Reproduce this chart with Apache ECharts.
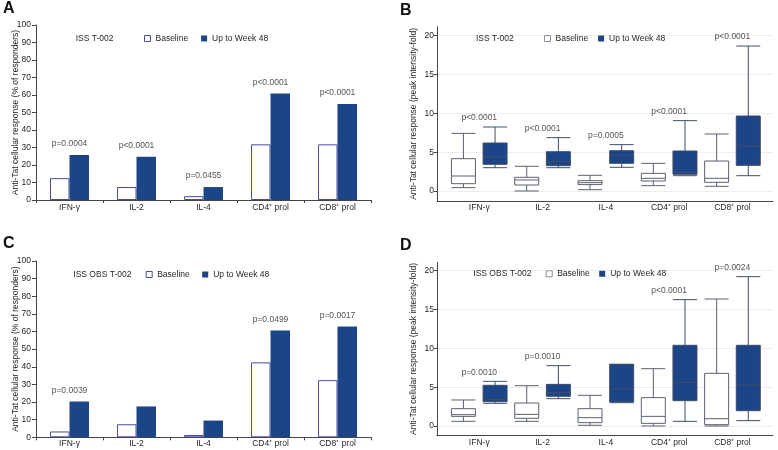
<!DOCTYPE html>
<html><head><meta charset="utf-8">
<script src="https://cdn.jsdelivr.net/npm/echarts@6/dist/echarts.min.js"></script>
<style>html,body{margin:0;padding:0;background:#fff}#c{width:778px;height:450px}</style>
</head><body><div id="c"></div>
<script>
// ---------- data ----------
const categories = ['IFN-γ', 'IL-2', 'IL-4', 'CD4⁺ prol', 'CD8⁺ prol'];
const seriesNames = ['Baseline', 'Up to Week 48'];
const pctTicks = [0, 10, 20, 30, 40, 50, 60, 70, 80, 90, 100];
const foldTicks = [0, 5, 10, 15, 20];

// Panel A (ISS T-002, % responders)
const aBaseline = [12.5, 7.4, 2.2, 31.8, 31.8];
const aWeek48   = [25.7, 24.7, 7.4, 60.8, 54.9];
const aP        = ['p=0.0004', 'p<0.0001', 'p=0.0455', 'p<0.0001', 'p<0.0001'];

// Panel C (ISS OBS T-002, % responders)
const cBaseline = [3.3, 7.4, 1.3, 42.5, 32.4];
const cWeek48   = [20.3, 17.5, 9.5, 60.6, 62.8];
const cP        = ['p=0.0039', '', '', 'p=0.0499', 'p=0.0017'];

// Panel B (ISS T-002, fold) [min, Q1, median, Q3, max]
const bBaseline = [
  [0.43, 0.94, 1.93, 4.16, 7.42],
  [0.00, 0.77, 1.42, 1.76, 3.18],
  [0.17, 0.82, 1.07, 1.33, 2.02],
  [0.69, 1.29, 1.63, 2.27, 3.56],
  [0.60, 1.12, 1.63, 3.86, 7.34]
];
const bWeek48 = [
  [3.00, 3.43, 4.40, 6.18, 8.24],
  [3.00, 3.26, 3.78, 5.06, 6.87],
  [3.05, 3.56, 4.60, 5.19, 5.97],
  [1.97, 2.15, 2.40, 5.15, 9.06],
  [1.97, 3.30, 5.80, 9.66, 18.67]
];
const bP = ['p<0.0001', 'p<0.0001', 'p=0.0005', 'p<0.0001', 'p<0.0001'];

// Panel D (ISS OBS T-002, fold)
const dBaseline = [
  [0.60, 1.24, 1.46, 2.23, 3.35],
  [0.60, 0.99, 1.50, 2.96, 5.19],
  [0.09, 0.43, 1.07, 2.23, 3.95],
  [0.00, 0.34, 1.24, 3.65, 7.38],
  [0.00, 0.17, 0.94, 6.78, 16.35]
];
const dWeek48 = [
  [2.92, 3.13, 3.40, 5.24, 5.75],
  [3.52, 3.82, 4.30, 5.36, 7.77],
  [3.00, 3.09, 4.80, 7.94, 7.94],
  [0.60, 3.26, 5.60, 10.39, 16.27],
  [0.69, 1.97, 5.30, 10.39, 19.23]
];
const dP = ['p=0.0010', 'p=0.0010', '', 'p<0.0001', 'p=0.0024'];

// ---------- styling ----------
const FONT = 'Liberation Sans, Arial, Helvetica, sans-serif';
const FS = 8.5;
const TXT = '#231f20';
const AX = '#444';
const NAVY = '#1c4587';
const BAR_EDGE = '#4a4c9c';
const BOX_EDGE = '#5b6170';
const WEEK_EDGE = '#3f4d68';
const pctName = 'Anti-Tat cellular response (% of responders)';
const foldName = 'Anti-Tat cellular response (peak intensity-fold)';
const foldMin = -1.29, foldMax = 21.16;
const foldMinD = -1.25, foldMaxD = 21.08;

const grids = [], xAxes = [], yAxes = [], series = [], legends = [], titles = [];

function txt(o) { return Object.assign({ fontFamily: FONT, fontSize: FS, color: TXT }, o || {}); }

function addTitle(text, left, top, big) {
  titles.push({ text: text, left: left, top: top, padding: 0, itemGap: 0,
    textStyle: big ? { fontFamily: FONT, fontSize: 16, fontWeight: 'bold', color: '#111' }
                   : { fontFamily: FONT, fontSize: FS, fontWeight: 'normal', color: TXT } });
}
function addLegend(left, top, gap, edge) {
  legends.push({ left: left, top: top, padding: 0, itemWidth: 6, itemHeight: 6, itemGap: gap,
    selectedMode: false, textStyle: txt(),
    data: [
      { name: seriesNames[0], icon: 'rect', itemStyle: { color: '#fff', borderColor: edge, borderWidth: 1 } },
      { name: seriesNames[1], icon: 'rect', itemStyle: { color: NAVY, borderWidth: 0 } }
    ] });
}

function barPanel(g, base, week, pv, labelMargin) {
  const gi = grids.length;
  grids.push(g);
  const xi = xAxes.length, yi = yAxes.length;
  xAxes.push({ type: 'category', gridIndex: gi, data: categories,
    axisLine: { onZero: false, lineStyle: { color: AX, width: 1 } },
    axisTick: { show: true, length: 3, lineStyle: { color: AX } },
    axisLabel: txt({ margin: labelMargin }), splitLine: { show: false } });
  yAxes.push({ type: 'value', gridIndex: gi, min: pctTicks[0], max: pctTicks[pctTicks.length - 1],
    interval: pctTicks[1] - pctTicks[0],
    name: pctName, nameLocation: 'middle', nameGap: 16, nameMoveOverlap: false, nameTextStyle: txt(),
    axisLine: { show: true, lineStyle: { color: AX, width: 1 } },
    axisTick: { show: true, length: 4, lineStyle: { color: AX } },
    axisLabel: txt({ margin: 5 }), splitLine: { show: false } });
  series.push({ type: 'bar', name: seriesNames[0], xAxisIndex: xi, yAxisIndex: yi, data: base,
    barWidth: 19.5, barGap: '0%', itemStyle: { color: '#fff', borderColor: BAR_EDGE, borderWidth: 1 },
    emphasis: { disabled: true }, silent: true });
  series.push({ type: 'bar', name: seriesNames[1], xAxisIndex: xi, yAxisIndex: yi, data: week,
    barWidth: 19.5, barGap: '0%', itemStyle: { color: NAVY },
    emphasis: { disabled: true }, silent: true });
  series.push({ type: 'scatter', xAxisIndex: xi, yAxisIndex: yi, data: week,
    symbolSize: 1, itemStyle: { color: 'rgba(0,0,0,0)' }, silent: true, z: 5,
    label: { show: true, position: 'top', distance: 6, fontFamily: FONT, fontSize: FS, color: TXT,
      formatter: function (p) { return pv[p.dataIndex]; } } });
}

function boxPanel(lineRect, tickRect, dataRect, base, week, pv, yMin, yMax) {
  // grid with axis lines
  const g0 = grids.length; grids.push(lineRect);
  xAxes.push({ type: 'value', gridIndex: g0, min: 0, max: 1, axisLine: { onZero: false, lineStyle: { color: AX } },
    axisTick: { show: false }, axisLabel: { show: false }, splitLine: { show: false } });
  yAxes.push({ type: 'value', gridIndex: g0, min: yMin, max: yMax,
    name: foldName, nameLocation: 'middle', nameGap: 19, nameMoveOverlap: false, nameTextStyle: txt(),
    axisLine: { show: true, onZero: false, lineStyle: { color: AX } },
    axisTick: { show: false }, axisLabel: { show: false }, splitLine: { show: false } });
  // grid with ticks / labels / grid lines
  const g1 = grids.length; grids.push(tickRect);
  xAxes.push({ type: 'value', gridIndex: g1, min: 0, max: 1, show: false });
  yAxes.push({ type: 'value', gridIndex: g1, min: foldTicks[0], max: foldTicks[foldTicks.length - 1],
    interval: foldTicks[1] - foldTicks[0],
    axisLine: { show: false }, axisTick: { show: true, length: 3, lineStyle: { color: AX } },
    axisLabel: txt({ margin: 3 }), splitLine: { show: true, lineStyle: { color: '#eeeeee', width: 1 } } });
  // data grid
  const g2 = grids.length; grids.push(dataRect);
  const slots = [];
  categories.forEach(function (c) { slots.push(c + ' b', c + ' w'); });
  const xb = xAxes.length;
  xAxes.push({ type: 'category', gridIndex: g2, data: slots, show: false });
  const xw = xAxes.length;
  xAxes.push({ type: 'category', gridIndex: g2, data: slots, show: false });
  const xl = xAxes.length;
  xAxes.push({ type: 'category', gridIndex: g2, data: categories, position: 'bottom',
    axisLine: { show: false, onZero: false }, axisTick: { show: false }, axisLabel: txt({ margin: 2 }),
    splitLine: { show: false } });
  const yd = yAxes.length;
  yAxes.push({ type: 'value', gridIndex: g2, min: yMin, max: yMax, show: false });
  const EMPTY = ['-', '-', '-', '-', '-'];
  const bData = [], wData = [];
  for (let i = 0; i < categories.length; i++) {
    bData.push(base[i], EMPTY);
    wData.push(EMPTY, week[i]);
  }
  series.push({ type: 'boxplot', name: seriesNames[0], xAxisIndex: xb, yAxisIndex: yd, data: bData,
    boxWidth: [24, 24], itemStyle: { color: '#fff', borderColor: BOX_EDGE, borderWidth: 1 },
    emphasis: { disabled: true }, silent: true });
  series.push({ type: 'boxplot', name: seriesNames[1], xAxisIndex: xw, yAxisIndex: yd, data: wData,
    boxWidth: [24, 24], itemStyle: { color: NAVY, borderColor: WEEK_EDGE, borderWidth: 1 },
    emphasis: { disabled: true }, silent: true });
  series.push({ type: 'scatter', xAxisIndex: xl, yAxisIndex: yd, data: week.map(function (w) { return w[4]; }),
    symbolSize: 1, itemStyle: { color: 'rgba(0,0,0,0)' }, silent: true, z: 5,
    label: { show: true, position: 'top', distance: 4, fontFamily: FONT, fontSize: FS, color: TXT,
      formatter: function (p) { return pv[p.dataIndex]; } } });
}

// Panel A
barPanel({ left: 36, top: 25, width: 335, height: 175 }, aBaseline, aWeek48, aP, 3);
// Panel C
barPanel({ left: 36, top: 261, width: 335, height: 176.3 }, cBaseline, cWeek48, cP, 2);
// Panel B
boxPanel({ left: 437, top: 26.7, width: 336, height: 174.3 },
         { left: 437, top: 35.7, width: 336, height: 155.3 },
         { left: 447.6, top: 26.7, width: 316.5, height: 174.3 },
         bBaseline, bWeek48, bP, foldMin, foldMax);
// Panel D
boxPanel({ left: 437, top: 262.3, width: 336, height: 173.4 },
         { left: 437, top: 270.7, width: 336, height: 155.3 },
         { left: 447.6, top: 262.3, width: 316.5, height: 173.4 },
         dBaseline, dWeek48, dP, foldMinD, foldMaxD);

addTitle('A', 3, 1, true);
addTitle('B', 400, 3, true);
addTitle('C', 3, 236, true);
addTitle('D', 400, 238, true);
addTitle('ISS T-002', 75.7, 34);
addTitle('ISS OBS T-002', 73.3, 270);
addTitle('ISS T-002', 476, 34);
addTitle('ISS OBS T-002', 473.3, 269.3);

addLegend(144, 34, 13, BAR_EDGE);
addLegend(145.7, 270, 12.4, BAR_EDGE);
addLegend(544, 34, 10, '#8a8f99');
addLegend(545.7, 269.3, 9.4, '#8a8f99');

const chart = echarts.init(document.getElementById('c'), null, { renderer: 'canvas' });
chart.setOption({
  animation: false,
  backgroundColor: '#fff',
  title: titles,
  legend: legends,
  grid: grids,
  xAxis: xAxes,
  yAxis: yAxes,
  series: series
});
</script></body></html>
